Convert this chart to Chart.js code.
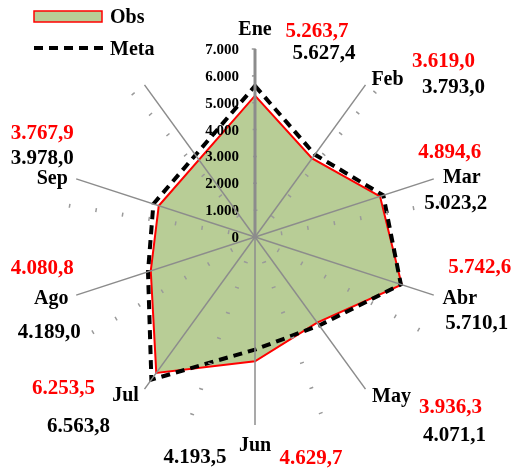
<!DOCTYPE html>
<html>
<head>
<meta charset="utf-8">
<script src="https://cdn.jsdelivr.net/npm/chart.js@4"></script>
<style>
  body { margin: 0; background: #fff; }
  #wrap { width: 514px; height: 470px; }
</style>
</head>
<body>
<div id="wrap"><canvas id="radar"></canvas></div>
<script>
// data (last spoke has no label and no values)
const months = ['Ene', 'Feb', 'Mar', 'Abr', 'May', 'Jun', 'Jul', 'Ago', 'Sep', ''];
const obsValues = [5263.7, 3619.0, 4894.6, 5742.6, 3936.3, 4629.7, 6253.5, 4080.8, 3767.9, null];
const metaValues = [5627.4, 3793.0, 5023.2, 5710.1, 4071.1, 4193.5, 6563.8, 4189.0, 3978.0, null];
const tickValues = [0, 1000, 2000, 3000, 4000, 5000, 6000, 7000];

// label placement, offsets from the end of each spoke (baseline, centred text)
const nameOffsets = [[0, -14], [22, 0], [28, 4], [26, 9], [26, 13], [0, 26], [-19, 12], [-25, 9], [-24, 5]];
const obsOffsets = [[62, -12], [78, -18], [16, -21], [46, -22], [85, 24], [56, 39], [-81, 5], [-34, -21], [-34, -40]];
const metaOffsets = [[69, 10], [88, 8], [22, 30], [43, 34], [89, 52], [-60, 38], [-66, 43], [-27, 43], [-34, -15]];

const FONT = '"Liberation Serif", "Times New Roman", serif';
const RED = '#ff0000';
const GREEN = '#b8cd96';

function thousands(v) {
  return String(v).replace(/\B(?=(\d{3})+(?!\d))/g, '.');
}
function fmt(v) {
  const parts = v.toFixed(1).split('.');
  return thousands(parts[0]) + ',' + parts[1];
}

const labelPlugin = {
  id: 'radarLabels',
  beforeDatasetDraw(chart, args) {
    if (args.index !== 1) return;
    // tick values sit left of the Ene axis, under the dashed Meta line
    const r = chart.scales.r;
    const ctx = chart.ctx;
    ctx.save();
    ctx.font = 'bold 15px ' + FONT;
    ctx.fillStyle = '#000';
    ctx.textAlign = 'right';
    ctx.textBaseline = 'alphabetic';
    r.ticks.forEach(t => {
      const y = r.yCenter - r.getDistanceFromCenterForValue(t.value);
      ctx.fillText(t.label, r.xCenter - 16, y + 5);
    });
    ctx.restore();
  },
  afterDraw(chart) {
    const r = chart.scales.r;
    const ctx = chart.ctx;
    const outer = r.getDistanceFromCenterForValue(r.max);
    ctx.save();
    ctx.textAlign = 'center';
    ctx.textBaseline = 'alphabetic';
    months.forEach((m, i) => {
      if (!m) return;
      const p = r.getPointPosition(i, outer);
      ctx.font = 'bold 20px ' + FONT;
      ctx.fillStyle = '#000';
      ctx.fillText(m, p.x + nameOffsets[i][0], p.y + nameOffsets[i][1]);
      ctx.font = 'bold 21px ' + FONT;
      ctx.fillStyle = RED;
      ctx.fillText(fmt(obsValues[i]), p.x + obsOffsets[i][0], p.y + obsOffsets[i][1]);
      ctx.fillStyle = '#000';
      ctx.fillText(fmt(metaValues[i]), p.x + metaOffsets[i][0], p.y + metaOffsets[i][1]);
    });

    // legend, top left
    const [obs, meta] = chart.data.datasets;
    ctx.fillStyle = obs.backgroundColor;
    ctx.fillRect(34, 11, 68, 11);
    ctx.strokeStyle = obs.borderColor;
    ctx.lineWidth = 1.5;
    ctx.strokeRect(34, 11, 68, 11);
    ctx.beginPath();
    ctx.setLineDash(meta.borderDash);
    ctx.strokeStyle = meta.borderColor;
    ctx.lineWidth = meta.borderWidth;
    ctx.moveTo(34, 48);
    ctx.lineTo(104, 48);
    ctx.stroke();
    ctx.setLineDash([]);
    ctx.font = 'bold 20px ' + FONT;
    ctx.fillStyle = '#000';
    ctx.textAlign = 'left';
    ctx.fillText(obs.label, 110, 23);
    ctx.fillText(meta.label, 110, 55);
    ctx.restore();
  }
};

new Chart(document.getElementById('radar'), {
  type: 'radar',
  data: {
    labels: months,
    datasets: [
      {
        label: 'Obs',
        data: obsValues,
        borderColor: RED,
        borderWidth: 2,
        backgroundColor: GREEN,
        fill: 'origin',
        spanGaps: true,
        pointRadius: 0,
        order: 2
      },
      {
        label: 'Meta',
        data: metaValues,
        borderColor: '#000',
        borderWidth: 4,
        borderDash: [9, 6],
        backgroundColor: 'transparent',
        fill: false,
        spanGaps: true,
        pointRadius: 0,
        order: 1
      }
    ]
  },
  options: {
    responsive: true,
    maintainAspectRatio: false,
    animation: false,
    layout: { padding: { left: 67, right: 71, top: 49, bottom: 45 } },
    plugins: {
      legend: { display: false },
      tooltip: { enabled: false }
    },
    scales: {
      r: {
        min: tickValues[0],
        max: tickValues[tickValues.length - 1],
        startAngle: 0,
        ticks: {
          display: false,
          stepSize: 1000,
          callback: v => thousands(v)
        },
        pointLabels: { display: false },
        angleLines: {
          color: '#8c8c8c',
          lineWidth: c => (c.index === 0 ? 3 : 1.5)
        },
        grid: {
          circular: true,
          color: '#9a9a9a',
          lineWidth: 1.5,
          z: 1
        },
        border: {
          // sparse dotted rings: one short mark every 40 degrees
          dash: c => {
            const rr = c.scale.getDistanceFromCenterForValue(c.tick.value);
            const per = 2 * Math.PI * rr / 9;
            return [4, per - 4];
          },
          dashOffset: c => {
            const rr = c.scale.getDistanceFromCenterForValue(c.tick.value);
            const per = 2 * Math.PI * rr / 9;
            const start = rr * 29.5 * Math.PI / 180 - 2;
            return per - (start % per);
          }
        }
      }
    }
  },
  plugins: [labelPlugin]
});
</script>
</body>
</html>
